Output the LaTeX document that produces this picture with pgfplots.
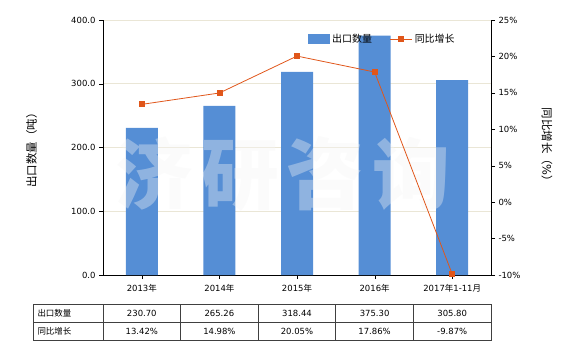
\documentclass[border=0pt]{standalone}
\usepackage{pgfplots}
\pgfplotsset{compat=1.18}
\usepackage{fontspec}
\setmainfont{DejaVu Sans}
\newfontfamily\cjk{Noto Sans CJK SC}
\newcommand\cj[1]{{\cjk #1}}
\definecolor{barblue}{RGB}{85,142,213}
\definecolor{lineor}{RGB}{224,86,26}
\definecolor{gridc}{RGB}{234,230,214}
\definecolor{tabc}{RGB}{64,64,64}
\begin{document}
\begin{tikzpicture}[x=1bp,y=1bp]
\useasboundingbox (0,0) rectangle (580,350);
\begin{axis}[
  at={(103bp,75bp)}, anchor=south west,
  scale only axis, width=388bp, height=255bp,
  xmin=-0.5, xmax=4.5, ymin=0, ymax=400,
  axis x line*=bottom, axis y line*=left,
  xtick={0,1,2,3,4},
  xticklabels={2013\cj{年},2014\cj{年},2015\cj{年},2016\cj{年},2017\cj{年}1-11\cj{月}},
  ytick={0,100,200,300,400},
  yticklabel style={/pgf/number format/.cd,fixed,fixed zerofill,precision=1,assume math mode=true},
  tick align=outside, major tick length=4bp,
  tick style={black},
  ymajorgrids, grid style={gridc, line width=0.8pt},
  every tick label/.append style={font=\fontsize{8.5}{10}\selectfont, text=black},
  xticklabel style={yshift=-2bp},
  ylabel={\cj{出口数量（吨）}},
  ylabel style={at={(axis description cs:-0.184,0.5)}, anchor=center, font=\fontsize{11.5}{13}\selectfont},
  axis line style={black, line width=0.8pt},
]
\addplot[ybar, bar width=32bp, fill=barblue, draw=none] coordinates {(0,230.70) (1,265.26) (2,318.44) (3,375.30) (4,305.80)};
\end{axis}
\node[text=black!4, opacity=0.37, font=\fontsize{78}{80}\selectfont\cjk\bfseries, inner sep=0] at (283,176) {济\hspace{8bp}研\hspace{8bp}咨\hspace{8bp}询};
\begin{axis}[
  at={(103bp,75bp)}, anchor=south west,
  scale only axis, width=388bp, height=255bp,
  xmin=-0.5, xmax=4.5, ymin=-10, ymax=25,
  axis x line=none, axis y line*=right,
  ytick={-10,-5,0,5,10,15,20,25},
  yticklabel={\pgfmathprintnumber[assume math mode=true]{\tick}\%},
  tick align=outside, major tick length=4bp,
  tick style={black},
  every tick label/.append style={font=\fontsize{8.5}{10}\selectfont, text=black},
  ylabel={\cj{同比增长（}\%\cj{）}},
  ylabel style={at={(axis description cs:1.144,0.5)}, anchor=center, rotate=180, font=\fontsize{11.5}{13}\selectfont},
  axis line style={black, line width=0.8pt},
  legend style={at={(axis description cs:0.72,0.925)}, anchor=center, draw=none, fill=none, legend columns=2, font=\fontsize{10}{12}\selectfont, /tikz/column 2/.style={column sep=16bp}},
  legend image code/.code={\draw[mark repeat=2,mark phase=2,#1] plot coordinates {(0bp,0bp) (11bp,0bp) (22bp,0bp)};},
  clip=false,
]
\addlegendimage{area legend, fill=barblue, draw=none, legend image code/.code={\fill[barblue] (0bp,-5bp) rectangle (22bp,5bp);}}
\addlegendentry{\cj{出口数量}}
\addplot[color=lineor, line width=0.8pt, mark=square*, mark size=2.5bp, mark options={fill=lineor, draw=lineor}] coordinates {(0,13.42) (1,14.98) (2,20.05) (3,17.86) (4,-9.87)};
\addlegendentry{\cj{同比增长}}
\end{axis}
% data table
\begin{scope}[tabc, line width=0.8pt]
\draw (33,10) rectangle (491,46);
\draw (33,28) -- (491,28);
\foreach \x in {103,180.6,258.2,335.8,413.4} {\draw (\x,10) -- (\x,46);}
\end{scope}
\begin{scope}[font=\fontsize{8.5}{10}\selectfont]
\node[anchor=west] at (34,37) {\cj{出口数量}};
\node[anchor=west] at (34,19) {\cj{同比增长}};
\node at (141.8,37) {230.70};
\node at (219.4,37) {265.26};
\node at (297.0,37) {318.44};
\node at (374.6,37) {375.30};
\node at (452.2,37) {305.80};
\node at (141.8,19) {13.42\%};
\node at (219.4,19) {14.98\%};
\node at (297.0,19) {20.05\%};
\node at (374.6,19) {17.86\%};
\node at (452.2,19) {-9.87\%};
\end{scope}
\end{tikzpicture}
\end{document}
